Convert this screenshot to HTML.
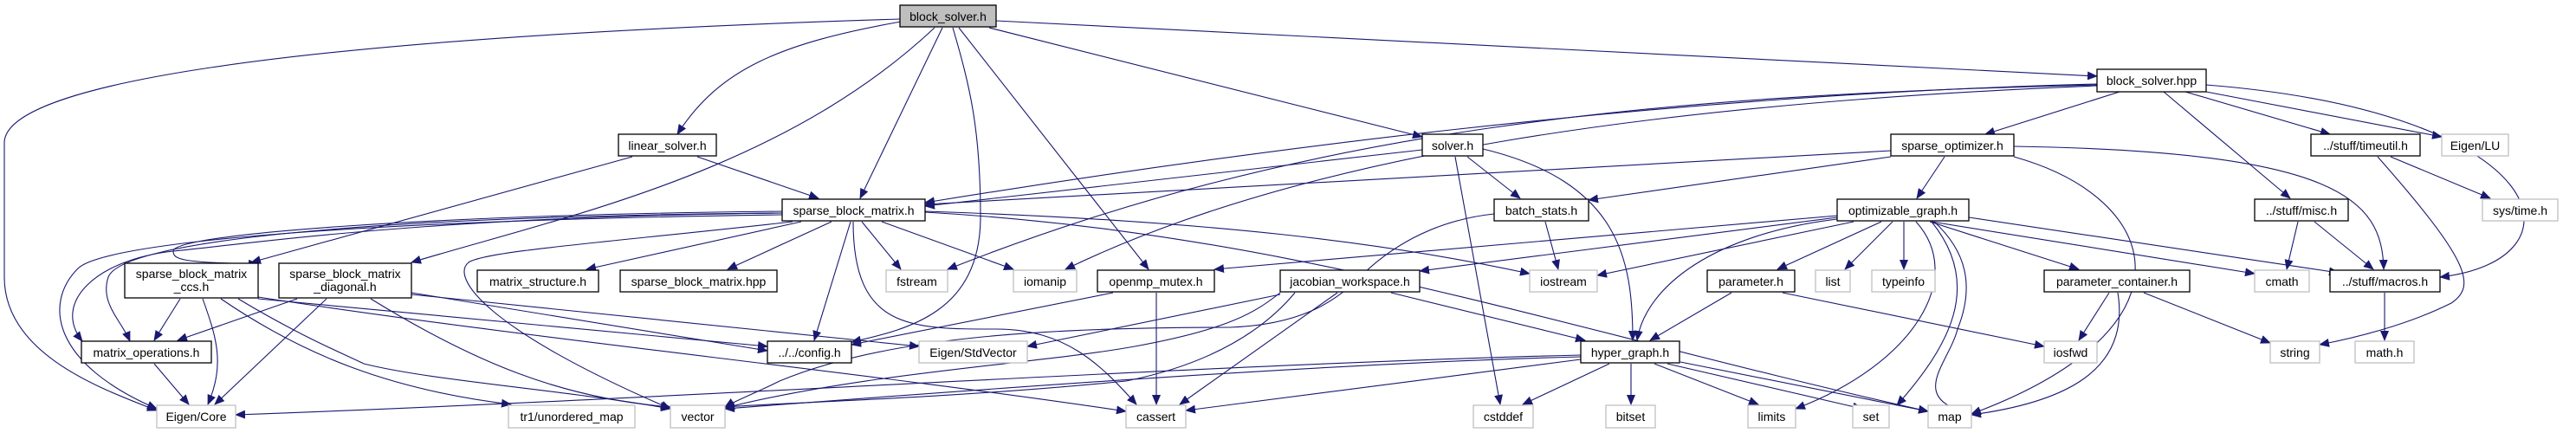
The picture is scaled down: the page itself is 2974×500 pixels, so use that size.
<!DOCTYPE html>
<html><head><meta charset="utf-8"><style>
html,body{margin:0;padding:0;background:#fff;}
svg{display:block;}
text{font-family:"Liberation Sans","DejaVu Sans",sans-serif;font-size:14px;fill:#000;}
.n{fill:#fff;stroke:#000;stroke-width:1.3;}
.g{fill:#fff;stroke:#bfbfbf;stroke-width:1.3;}
path{fill:none;stroke:#191970;stroke-width:1.1;}
</style></head><body>
<svg width="2974" height="500" viewBox="0 0 2974 500" xmlns="http://www.w3.org/2000/svg">
<defs><marker id="a" markerUnits="userSpaceOnUse" markerWidth="12" markerHeight="10" refX="11" refY="5" orient="auto"><polygon points="0,0 12,5 0,10" fill="#191970"/></marker></defs>
<g marker-end="url(#a)">
<!-- block_solver.h -->
<path d="M1039,22 C300,45 5,100 5,165 L5,320 C5,410 120,450 181,474"/>
<path d="M1040,25 C900,50 830,80 782,155"/>
<path d="M1079,32 C900,200 650,250 475,303"/>
<path d="M1088,32 L993,229"/>
<path d="M1100,32 C1120,100 1132,150 1132,250 C1132,360 1050,380 983,395"/>
<path d="M1107,32 L1326,311"/>
<path d="M1142,32 L1642,158"/>
<path d="M1150,24 L2421,88"/>
<!-- linear_solver -->
<path d="M805,181 L945,229"/>
<path d="M730,181 L290,303"/>
<!-- block_solver.hpp -->
<path d="M2421,97 C1900,110 1400,180 1068,234"/>
<path d="M2421,98 C1900,110 1500,150 1094,311"/>
<path d="M2421,99 C1900,120 1500,180 1230,311"/>
<path d="M2447,106 L2292,155"/>
<path d="M2498,106 L2644,229"/>
<path d="M2523,106 L2690,155"/>
<path d="M2547,106 L2819,158"/>
<path d="M2547,98 C2950,130 2990,300 2817,320"/>
<!-- sparse_block_matrix.h -->
<path d="M903,244 C500,248 200,270 200,290 C200,300 210,303 298,305"/>
<path d="M903,246 C400,250 140,280 125,320 C115,350 140,370 150,394"/>
<path d="M903,248 C400,255 120,280 90,310 C50,350 60,420 181,472"/>
<path d="M925,256 L677,311"/>
<path d="M960,256 L840,311"/>
<path d="M995,256 L1040,311"/>
<path d="M1018,256 L1170,311"/>
<path d="M982,256 L940,393"/>
<path d="M985,256 C985,380 1050,380 1150,380 C1230,380 1270,420 1312,467"/>
<path d="M915,256 C700,280 560,290 541,303 C520,320 560,380 774,472"/>
<path d="M1068,244 C1400,255 1600,280 1766,316"/>
<path d="M1068,245 C1500,270 1800,380 2226,475"/>
<path d="M903,246 C500,250 300,280 200,290 C110,300 60,350 95,394"/>
<!-- ccs -->
<path d="M208,345 L178,393"/>
<path d="M234,345 C250,390 260,420 240,467"/>
<path d="M255,345 C350,410 450,450 590,467"/>
<path d="M275,345 C350,390 400,410 420,420 C500,440 650,450 774,472"/>
<path d="M298,345 L886,400"/>
<path d="M298,343 C600,390 1000,430 1300,475"/>
<!-- diagonal -->
<path d="M343,345 L205,393"/>
<path d="M377,345 L248,467"/>
<path d="M428,345 C550,420 650,460 774,470"/>
<path d="M475,338 L886,405"/>
<path d="M475,340 L1061,400"/>
<!-- matrix_operations -->
<path d="M178,420 L218,467"/>
<!-- openmp_mutex -->
<path d="M1285,338 L983,398"/>
<path d="M1335,338 L1335,467"/>
<!-- solver.h -->
<path d="M1642,173 L1068,238"/>
<path d="M1694,181 L1755,229"/>
<path d="M1712,172 C1870,210 1885,300 1885,393"/>
<path d="M1680,181 L1732,467"/>
<!-- batch_stats -->
<path d="M1784,256 L1799,311"/>
<path d="M1725,247 C1650,255 1600,290 1570,320 C1540,350 1500,375 1420,378 C1200,378 1020,390 900,440 C870,455 850,462 837,470"/>
<!-- sparse_optimizer -->
<path d="M2183,174 L1068,236"/>
<path d="M2183,181 L1834,231"/>
<path d="M2245,181 L2213,229"/>
<path d="M2325,169 C2700,175 2750,230 2752,311"/>
<path d="M2325,181 C2500,230 2540,380 2276,478"/>
<!-- optimizable_graph -->
<path d="M2121,249 L1402,311"/>
<path d="M2140,256 L1844,318"/>
<path d="M2121,251 L1639,313"/>
<path d="M2121,253 C1980,270 1900,330 1890,393"/>
<path d="M2172,256 L2052,311"/>
<path d="M2185,256 L2130,311"/>
<path d="M2198,256 L2198,311"/>
<path d="M2212,256 C2270,320 2210,420 2073,472"/>
<path d="M2230,256 C2290,330 2250,400 2190,468"/>
<path d="M2225,256 C2260,300 2260,360 2240,400 C2200,440 2160,460 2140,470" style="display:none"/>
<path d="M2228,256 L2400,311"/>
<path d="M2230,256 L2603,316"/>
<path d="M2273,251 L2700,315"/>
<path d="M2233,256 C2270,290 2280,330 2260,380 C2250,420 2200,460 2276,478"/>
<!-- parameter.h -->
<path d="M1999,338 L1905,393"/>
<path d="M2058,338 L2360,400"/>
<!-- parameter_container -->
<path d="M2435,338 L2400,393"/>
<path d="M2445,338 C2460,430 2380,465 2276,479"/>
<path d="M2475,338 L2621,396"/>
<!-- jacobian_workspace -->
<path d="M1606,338 L1830,393"/>
<path d="M1478,340 L1186,400"/>
<path d="M1478,338 C1450,360 1420,380 1310,400 C1200,420 1000,430 837,471"/>
<path d="M1544,338 L1362,467"/>
<path d="M1495,338 C1460,380 1400,420 1300,440 C1100,460 900,465 837,470"/>
<!-- hyper_graph -->
<path d="M1825,410 C1400,420 800,460 272,479"/>
<path d="M1825,412 C1500,420 1000,460 837,472"/>
<path d="M1825,415 L1369,474"/>
<path d="M1858,420 L1758,467"/>
<path d="M1883,420 L1883,467"/>
<path d="M1910,420 L2030,467"/>
<path d="M1925,420 L2150,472"/>
<path d="M1940,418 L2226,475"/>
<!-- misc -->
<path d="M2653,256 L2640,311"/>
<path d="M2672,256 L2740,311"/>
<!-- timeutil -->
<path d="M2760,181 L2875,229"/>
<path d="M2745,181 C2850,300 2860,330 2830,350 C2780,375 2720,390 2678,398"/>
<!-- macros -->
<path d="M2753,338 L2753,393"/>
</g>
<!-- nodes -->
<g>
<rect x="1039" y="6" width="111" height="25" fill="#bfbfbf" stroke="#000" stroke-width="1.3"/><text x="1094.5" y="24" text-anchor="middle">block_solver.h</text>
<rect class="n" x="714" y="155" width="113" height="25"/><text x="770.5" y="173" text-anchor="middle">linear_solver.h</text>
<rect class="n" x="2421" y="80" width="126" height="26"/><text x="2484" y="98" text-anchor="middle">block_solver.hpp</text>
<rect class="n" x="1642" y="155" width="70" height="25"/><text x="1677" y="173" text-anchor="middle">solver.h</text>
<rect class="n" x="2183" y="155" width="142" height="25"/><text x="2254" y="173" text-anchor="middle">sparse_optimizer.h</text>
<rect class="n" x="2668" y="155" width="126" height="25"/><text x="2731" y="173" text-anchor="middle">../stuff/timeutil.h</text>
<rect class="g" x="2819" y="155" width="77" height="25"/><text x="2857.5" y="173" text-anchor="middle">Eigen/LU</text>
<rect class="n" x="903" y="230" width="165" height="25"/><text x="985.5" y="248" text-anchor="middle">sparse_block_matrix.h</text>
<rect class="n" x="1725" y="230" width="109" height="25"/><text x="1779.5" y="248" text-anchor="middle">batch_stats.h</text>
<rect class="n" x="2121" y="230" width="152" height="25"/><text x="2197" y="248" text-anchor="middle">optimizable_graph.h</text>
<rect class="n" x="2603" y="230" width="108" height="25"/><text x="2657" y="248" text-anchor="middle">../stuff/misc.h</text>
<rect class="g" x="2866" y="230" width="87" height="25"/><text x="2909.5" y="248" text-anchor="middle">sys/time.h</text>
<rect class="n" x="144" y="304" width="154" height="40"/><text x="221" y="321" text-anchor="middle">sparse_block_matrix</text><text x="221" y="336" text-anchor="middle">_ccs.h</text>
<rect class="n" x="322" y="304" width="153" height="40"/><text x="398.5" y="321" text-anchor="middle">sparse_block_matrix</text><text x="398.5" y="336" text-anchor="middle">_diagonal.h</text>
<rect class="n" x="551" y="312" width="140" height="25"/><text x="621" y="330" text-anchor="middle">matrix_structure.h</text>
<rect class="n" x="716" y="312" width="181" height="25"/><text x="806.5" y="330" text-anchor="middle">sparse_block_matrix.hpp</text>
<rect class="g" x="1023" y="312" width="71" height="25"/><text x="1058.5" y="330" text-anchor="middle">fstream</text>
<rect class="g" x="1170" y="312" width="73" height="25"/><text x="1206.5" y="330" text-anchor="middle">iomanip</text>
<rect class="n" x="1267" y="312" width="135" height="25"/><text x="1334.5" y="330" text-anchor="middle">openmp_mutex.h</text>
<rect class="n" x="1478" y="312" width="161" height="25"/><text x="1558.5" y="330" text-anchor="middle">jacobian_workspace.h</text>
<rect class="g" x="1766" y="312" width="78" height="25"/><text x="1805" y="330" text-anchor="middle">iostream</text>
<rect class="n" x="1971" y="312" width="101" height="25"/><text x="2021.5" y="330" text-anchor="middle">parameter.h</text>
<rect class="g" x="2096" y="312" width="40" height="25"/><text x="2116" y="330" text-anchor="middle">list</text>
<rect class="g" x="2161" y="312" width="73" height="25"/><text x="2197.5" y="330" text-anchor="middle">typeinfo</text>
<rect class="n" x="2360" y="312" width="168" height="25"/><text x="2444" y="330" text-anchor="middle">parameter_container.h</text>
<rect class="g" x="2603" y="312" width="63" height="25"/><text x="2634.5" y="330" text-anchor="middle">cmath</text>
<rect class="n" x="2690" y="312" width="127" height="25"/><text x="2753.5" y="330" text-anchor="middle">../stuff/macros.h</text>
<rect class="n" x="94" y="394" width="150" height="25"/><text x="169" y="412" text-anchor="middle">matrix_operations.h</text>
<rect class="n" x="886" y="394" width="97" height="25"/><text x="934.5" y="412" text-anchor="middle">../../config.h</text>
<rect class="g" x="1061" y="394" width="125" height="25"/><text x="1123.5" y="412" text-anchor="middle">Eigen/StdVector</text>
<rect class="n" x="1825" y="394" width="114" height="25"/><text x="1882" y="412" text-anchor="middle">hyper_graph.h</text>
<rect class="g" x="2360" y="394" width="61" height="25"/><text x="2390.5" y="412" text-anchor="middle">iosfwd</text>
<rect class="g" x="2621" y="394" width="57" height="25"/><text x="2649.5" y="412" text-anchor="middle">string</text>
<rect class="g" x="2719" y="394" width="68" height="25"/><text x="2753" y="412" text-anchor="middle">math.h</text>
<rect class="g" x="181" y="468" width="91" height="26"/><text x="226.5" y="486" text-anchor="middle">Eigen/Core</text>
<rect class="g" x="587" y="468" width="146" height="26"/><text x="660" y="486" text-anchor="middle">tr1/unordered_map</text>
<rect class="g" x="774" y="468" width="63" height="26"/><text x="805.5" y="486" text-anchor="middle">vector</text>
<rect class="g" x="1300" y="468" width="69" height="26"/><text x="1334.5" y="486" text-anchor="middle">cassert</text>
<rect class="g" x="1701" y="468" width="69" height="26"/><text x="1735.5" y="486" text-anchor="middle">cstddef</text>
<rect class="g" x="1854" y="468" width="57" height="26"/><text x="1882.5" y="486" text-anchor="middle">bitset</text>
<rect class="g" x="2018" y="468" width="55" height="26"/><text x="2045.5" y="486" text-anchor="middle">limits</text>
<rect class="g" x="2139" y="468" width="42" height="26"/><text x="2160" y="486" text-anchor="middle">set</text>
<rect class="g" x="2226" y="468" width="50" height="26"/><text x="2251" y="486" text-anchor="middle">map</text>
</g>
</svg>
</body></html>
